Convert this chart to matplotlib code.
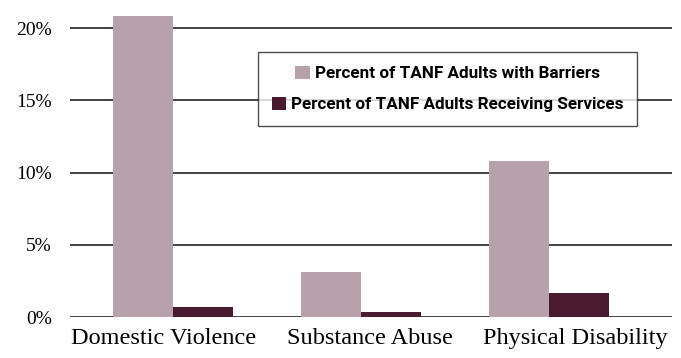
import matplotlib.pyplot as plt
import numpy as np

categories = ['Domestic Violence', 'Substance Abuse', 'Physical Disability']
barriers = [20.8, 3.1, 10.8]
services = [0.7, 0.35, 1.65]
series_names = ['Percent of TANF Adults with Barriers',
                'Percent of TANF Adults Receiving Services']
yticks = [0, 5, 10, 15, 20]

fig = plt.figure(figsize=(6.81, 3.58), dpi=100)
ax = fig.add_axes([70/681, 1-317/358, 602/681, 317/358])

ind = np.arange(len(categories))
width = 0.32
b1 = ax.bar(ind - width/2, barriers, width, color='#b7a2ab', label=series_names[0], zorder=3)
b2 = ax.bar(ind + width/2, services, width, color='#4a1a2e', label=series_names[1], zorder=3)

for v in yticks:
    ax.axhline(v, color='#333333', linewidth=1.3, zorder=2)

ax.set_xlim(-0.548, 2.654)
ax.set_ylim(0, 21.94)
ax.set_yticks(yticks)
ax.set_yticklabels([f'{v}%' for v in yticks], family='Liberation Serif', fontsize=14)
ax.set_xticks(ind + np.array([-0.05, 0.05, 0.14]))
ax.set_xticklabels(categories, family='Liberation Serif', fontsize=17.5)
ax.tick_params(axis='y', length=0, pad=13)
ax.tick_params(axis='x', length=0, pad=8)
for s in ax.spines.values():
    s.set_visible(False)

leg = ax.legend(loc='upper left', bbox_to_anchor=(258/681, 1-52/358),
                bbox_transform=fig.transFigure,
                prop={'family': 'Roboto', 'weight': 'bold', 'size': 12.3},
                frameon=True, fancybox=False, edgecolor='#222222',
                handlelength=0.85, handleheight=0.85, handletextpad=0.3,
                borderpad=0.8, labelspacing=0.9, borderaxespad=0)
leg.get_frame().set_linewidth(1.0)
leg.set_zorder(5)
# center the rows inside the box like the original
leg._legend_handle_box.get_children()[0].align = 'center'

fig.savefig('out.png', dpi=100)
